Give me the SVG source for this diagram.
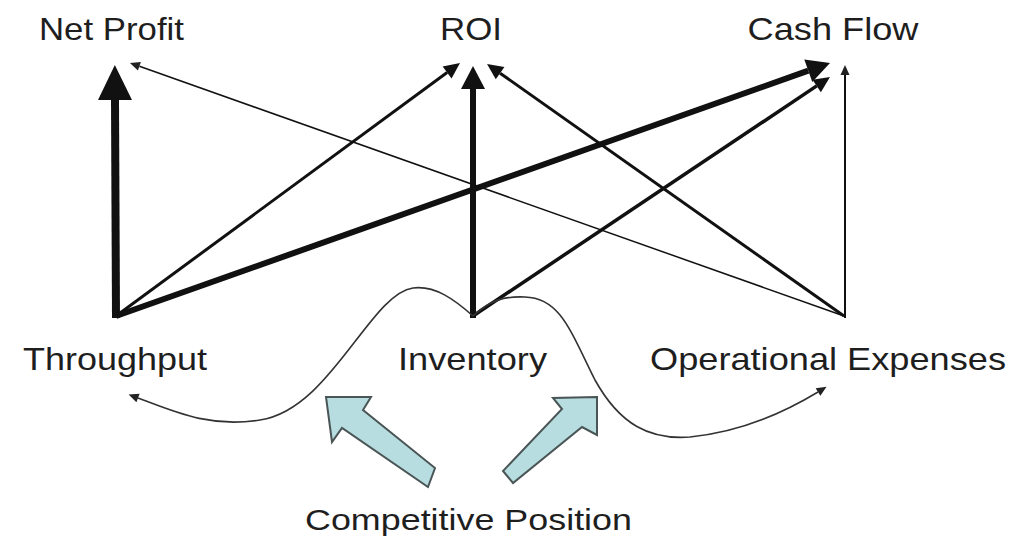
<svg xmlns="http://www.w3.org/2000/svg" width="1015" height="543" viewBox="0 0 1015 543">
<style>
  text { font-family: "Liberation Sans", Arial, sans-serif; font-size: 32px; fill: #1e1e1e; }
  .c { fill: none; stroke: #111; stroke-linecap: butt; }
  .curve { fill: none; stroke: #333; stroke-width: 1.6; }
  .blk { fill: #b8dde0; stroke: #4a5556; stroke-width: 2; stroke-linejoin: miter; }
</style>
<defs>
  <marker id="hXL" markerUnits="userSpaceOnUse" markerWidth="40" markerHeight="40" refX="0" refY="0" orient="auto" viewBox="-1 -20 40 40" overflow="visible"><path d="M0,-17 L35,0 L0,17 z" fill="#111"/></marker>
  <marker id="hL" markerUnits="userSpaceOnUse" markerWidth="30" markerHeight="30" refX="0" refY="0" orient="auto" viewBox="-1 -15 30 30" overflow="visible"><path d="M0,-12 L23,0 L0,12 z" fill="#111"/></marker>
  <marker id="hM" markerUnits="userSpaceOnUse" markerWidth="20" markerHeight="20" refX="0" refY="0" orient="auto" viewBox="-1 -10 20 20" overflow="visible"><path d="M0,-7.5 L16,0 L0,7.5 z" fill="#111"/></marker>
  <marker id="hS" markerUnits="userSpaceOnUse" markerWidth="12" markerHeight="12" refX="0" refY="0" orient="auto" viewBox="-1 -6 12 12" overflow="visible"><path d="M0,-4.5 L10,0 L0,4.5 z" fill="#222"/></marker>
</defs>

<g id="connectors">
  <line class="c" x1="116" y1="318" x2="115" y2="100" stroke-width="8" marker-end="url(#hXL)"/>
  <line class="c" x1="116" y1="316" x2="447.1" y2="72.5" stroke-width="3" marker-end="url(#hM)"/>
  <line class="c" x1="116" y1="316" x2="808.3" y2="70.7" stroke-width="6" marker-end="url(#hL)"/>
  <line class="c" x1="473" y1="318" x2="473" y2="89" stroke-width="6" marker-end="url(#hL)"/>
  <line class="c" x1="473" y1="316" x2="816.7" y2="85.9" stroke-width="3.5" marker-end="url(#hM)"/>
  <line class="c" x1="844" y1="316" x2="139.4" y2="66.3" stroke-width="1.5" stroke="#333" marker-end="url(#hS)"/>
  <line class="c" x1="844" y1="316" x2="500.1" y2="73.2" stroke-width="3" marker-end="url(#hM)"/>
  <line class="c" x1="845" y1="318" x2="845" y2="75" stroke-width="2" stroke="#444" marker-end="url(#hS)"/>
  <path class="curve" d="M473,316 C455,300 435,285 413,288 C370,294 330,410 260,420 C210,428 175,412 138,398" marker-end="url(#hS)"/>
  <path class="curve" d="M473,316 C490,300 505,296 525,297 C560,298 570,330 595,380 C620,425 650,440 690,437 C740,432 785,412 818,392" marker-end="url(#hS)"/>
</g>

<g id="net-profit"><text x="111.5" y="40" text-anchor="middle" textLength="145" lengthAdjust="spacingAndGlyphs">Net Profit</text></g>
<g id="roi"><text x="471" y="40" text-anchor="middle" textLength="62" lengthAdjust="spacingAndGlyphs">ROI</text></g>
<g id="cash-flow"><text x="833" y="40" text-anchor="middle" textLength="171" lengthAdjust="spacingAndGlyphs">Cash Flow</text></g>
<g id="throughput"><text x="115" y="370" text-anchor="middle" textLength="184" lengthAdjust="spacingAndGlyphs">Throughput</text></g>
<g id="inventory"><text x="472.5" y="370" text-anchor="middle" textLength="149" lengthAdjust="spacingAndGlyphs">Inventory</text></g>
<g id="operational-expenses"><text x="828" y="370" text-anchor="middle" textLength="356" lengthAdjust="spacingAndGlyphs">Operational Expenses</text></g>

<g id="competitive-position">
  <polygon class="blk" points="326,397 371,397 363,410 435,468 428,487 342,428 332,442"/>
  <polygon class="blk" points="597,397 553,398 562,409 503,471 513,483 582,427 597,435"/>
  <text x="468.5" y="530" text-anchor="middle" textLength="327" lengthAdjust="spacingAndGlyphs" style="font-size:30px">Competitive Position</text>
</g>
</svg>
